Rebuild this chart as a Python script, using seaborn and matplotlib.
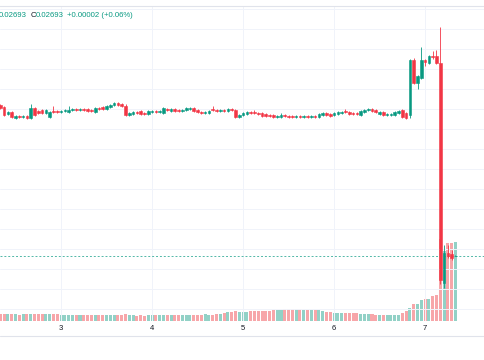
import matplotlib
matplotlib.use("Agg")
import matplotlib.pyplot as plt
import matplotlib.dates as mdates
from matplotlib.ticker import MultipleLocator, FuncFormatter
import numpy as np
import pandas as pd
import seaborn as sns

# hourly candles, prices in units of 1e-5
opens = [2844, 2842, 2835, 2837, 2831, 2833, 2832, 2833, 2831, 2841,
         2838, 2839, 2836, 2832, 2838, 2838, 2837, 2838, 2837, 2839,
         2840, 2839, 2840, 2840, 2839, 2837, 2841, 2842, 2840, 2842,
         2844, 2846, 2845, 2843, 2834, 2835, 2837, 2838, 2836, 2835,
         2837, 2838, 2837, 2836, 2840, 2838, 2840, 2839, 2838, 2839,
         2840, 2841, 2839, 2837, 2836, 2836, 2840, 2839, 2838, 2839,
         2838, 2840, 2839, 2832, 2834, 2835, 2837, 2837, 2836, 2836,
         2835, 2834, 2834, 2832, 2832, 2834, 2833, 2833, 2832, 2833,
         2832, 2833, 2832, 2833, 2832, 2834, 2836, 2835, 2834, 2835,
         2836, 2838, 2837, 2836, 2836, 2834, 2837, 2839, 2840, 2839,
         2835, 2837, 2834, 2834, 2834, 2836, 2839, 2836, 2834, 2889,
         2866, 2871, 2889, 2886, 2893, 2893, 2886, 2666, 2696, 2695, 2693]
closes = [2841, 2834, 2837, 2832, 2833, 2832, 2833, 2831, 2841, 2834,
          2836, 2836, 2839, 2837, 2837, 2837, 2838, 2839, 2839, 2840,
          2839, 2840, 2839, 2838, 2838, 2841, 2840, 2840, 2843, 2844,
          2846, 2844, 2843, 2834, 2836, 2837, 2836, 2835, 2835, 2838,
          2838, 2837, 2838, 2841, 2839, 2840, 2838, 2838, 2839, 2841,
          2841, 2838, 2837, 2836, 2837, 2838, 2839, 2838, 2839, 2838,
          2840, 2839, 2832, 2834, 2836, 2837, 2836, 2836, 2835, 2833,
          2833, 2833, 2832, 2833, 2834, 2833, 2832, 2832, 2833, 2832,
          2833, 2832, 2833, 2832, 2835, 2836, 2834, 2833, 2836, 2837,
          2837, 2837, 2835, 2835, 2835, 2838, 2839, 2840, 2838, 2837,
          2837, 2834, 2835, 2835, 2837, 2838, 2832, 2831, 2889, 2866,
          2873, 2889, 2887, 2893, 2892, 2886, 2669, 2696, 2693, 2691, 2693]
highs = [2845, 2843, 2838, 2838, 2834, 2834, 2834, 2834, 2845, 2842,
         2839, 2840, 2840, 2838, 2843, 2839, 2839, 2840, 2843, 2841,
         2841, 2841, 2841, 2841, 2840, 2842, 2842, 2843, 2844, 2845,
         2847, 2847, 2846, 2845, 2837, 2838, 2838, 2839, 2837, 2839,
         2839, 2839, 2839, 2842, 2841, 2841, 2841, 2840, 2840, 2842,
         2842, 2842, 2840, 2838, 2838, 2839, 2843, 2840, 2840, 2840,
         2841, 2841, 2840, 2835, 2837, 2838, 2838, 2839, 2837, 2837,
         2836, 2835, 2835, 2834, 2836, 2835, 2834, 2834, 2834, 2834,
         2834, 2834, 2834, 2834, 2836, 2837, 2837, 2836, 2837, 2838,
         2838, 2840, 2838, 2837, 2837, 2839, 2840, 2841, 2841, 2840,
         2838, 2838, 2836, 2836, 2838, 2839, 2840, 2837, 2890, 2891,
         2874, 2902, 2890, 2894, 2898, 2899, 2922, 2704, 2704, 2699, 2694]
lows = [2840, 2833, 2834, 2831, 2830, 2831, 2831, 2830, 2830, 2833,
        2835, 2835, 2835, 2831, 2836, 2836, 2836, 2837, 2836, 2838,
        2838, 2838, 2838, 2837, 2837, 2836, 2839, 2839, 2839, 2841,
        2843, 2843, 2842, 2833, 2833, 2834, 2835, 2834, 2834, 2834,
        2836, 2836, 2836, 2835, 2838, 2837, 2837, 2837, 2837, 2838,
        2839, 2837, 2836, 2835, 2835, 2835, 2838, 2837, 2837, 2837,
        2837, 2838, 2831, 2831, 2833, 2834, 2835, 2835, 2834, 2832,
        2832, 2832, 2831, 2831, 2831, 2832, 2831, 2831, 2831, 2831,
        2831, 2831, 2831, 2831, 2831, 2833, 2833, 2832, 2833, 2834,
        2835, 2836, 2834, 2834, 2834, 2833, 2836, 2838, 2837, 2836,
        2834, 2833, 2833, 2833, 2833, 2835, 2831, 2830, 2831, 2865,
        2860, 2870, 2883, 2885, 2890, 2885, 2665, 2661, 2691, 2689, 2693]
# volume, millions
volumes = [7, 7.5, 7, 7.5, 7, 6.5, 7, 7, 7.5, 7.5, 7, 7, 7, 7.5, 7, 7,
           6.5, 6.5, 6.5, 6, 6.5, 6.5, 6, 6.5, 6.5, 6.5, 6, 6.5, 6.5, 6.5, 6.5, 6,
           6, 7, 6, 6, 5.5, 6, 5.5, 6, 6, 6, 6, 6.5, 6, 6, 6.5, 6,
           6.5, 6.5, 6.5, 6.5, 6.5, 6.5, 7, 6.5, 6.5, 7, 7, 8, 9, 9.5,
           10, 9.5, 9.5, 9.5,
           10, 10, 10, 10.5, 10.5, 10.5, 11,
           11.5, 11.5, 12, 12, 12, 12, 12, 11.5, 11.5, 11.5, 11, 11, 10.5,
           9, 9,
           8.5, 8.5, 8, 8, 8, 8, 8, 7.5, 7.5, 7.5,
           7, 6.5, 6.5,
           6, 6, 6, 6, 6.5,
           8, 10, 13, 17, 17, 21, 22, 22, 25, 26, 82, 70, 78, 78, 79]

times = pd.date_range("2024-03-02 08:00", periods=len(opens), freq="h")
last_price = 0.02693

UP, DOWN = "#089981", "#f23645"
UP_VOL, DOWN_VOL = "#92d1c6", "#f7a6a9"
GRID = "#f0f3fa"

o = np.array(opens) / 1e5
c = np.array(closes) / 1e5
h = np.array(highs) / 1e5
l = np.array(lows) / 1e5
t = mdates.date2num(times)
up = c >= o

sns.set_style("white")
plt.rcParams["font.family"] = ["Liberation Sans", "DejaVu Sans"]

fig = plt.figure(figsize=(4.85, 3.6), dpi=100)
ax = fig.add_axes([0, 39 / 360, 1, 315 / 360])
vax = ax.twinx()

# volume pane
df = pd.DataFrame({"time": t, "volume": volumes,
                   "dir": np.where(up, "up", "down")})
sns.barplot(data=df, x="time", y="volume", hue="dir",
            palette={"up": UP_VOL, "down": DOWN_VOL}, native_scale=True,
            dodge=False, width=0.8, saturation=1, errorbar=None,
            legend=False, linewidth=0, ax=vax)
vax.set_ylim(0, 315)
vax.set_yticks([])
vax.set_ylabel("")

# candles
colors = np.where(up, UP, DOWN)
ax.vlines(t, l, h, colors=colors, linewidth=0.6, zorder=3)
ax.bar(t, c - o, bottom=o, width=0.7 / 24, color=colors, edgecolor=colors,
       linewidth=0.4, zorder=4)
ax.axhline(last_price, color=UP, linestyle=(0, (2, 2)), linewidth=0.7,
           alpha=0.7, zorder=2)

ax.set_zorder(vax.get_zorder() + 1)
ax.patch.set_visible(False)
ax.set_ylim(0.02628, 0.02943)
ax.set_xlim(mdates.date2num(pd.Timestamp("2024-03-02 07:54")),
            mdates.date2num(pd.Timestamp("2024-03-07 15:48")))
ax.xaxis.set_major_locator(mdates.DayLocator())
ax.xaxis.set_major_formatter(FuncFormatter(lambda x, pos: str(mdates.num2date(x).day)))
ax.yaxis.set_major_locator(MultipleLocator(0.0002))
ax.grid(True, color=GRID, linewidth=0.7)
ax.tick_params(axis="x", length=0, pad=3, labelsize=5.5, colors="#131722")
ax.tick_params(axis="y", left=False, labelleft=False)
vax.tick_params(axis="x", length=0)
for a in (ax, vax):
    for s in a.spines.values():
        s.set_visible(False)
ax.spines["top"].set_visible(True)
ax.spines["top"].set_color("#e0e3eb")
ax.spines["top"].set_linewidth(0.8)
ax.set_xlabel("")
vax.set_xlabel("")

fig.add_artist(plt.Line2D([0, 1], [1 - 336 / 360] * 2, color="#e0e3eb",
                          linewidth=0.8))

# legend header
ty = 1 - 15.5 / 360
fig.text(-1 / 485, ty, "0.02693", color=UP, fontsize=5.6, va="center")
fig.text(31 / 485, ty, "C", color="#131722", fontsize=5.6, va="center")
fig.text(35.5 / 485, ty, "0.02693", color=UP, fontsize=5.6, va="center")
fig.text(67 / 485, ty, "+0.00002 (+0.06%)", color=UP, fontsize=5.6, va="center")

fig.savefig("out.png", dpi=100)
